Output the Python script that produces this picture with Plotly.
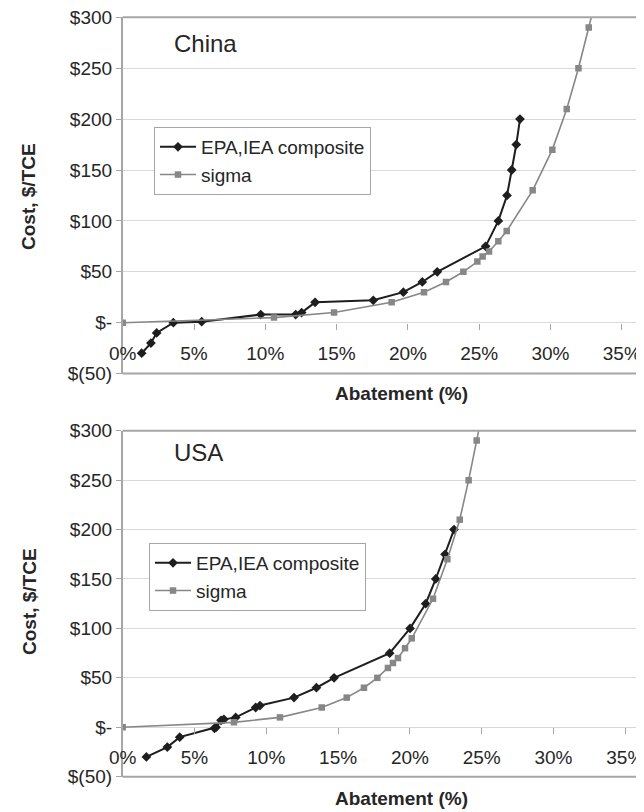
import plotly.graph_objects as go

# ---- data (abatement as fraction, cost in $/TCE) ----
china_epa_x = [0.0133, 0.0198, 0.0238, 0.0355, 0.0554, 0.0968, 0.1213, 0.1255, 0.1349,
               0.1757, 0.1968, 0.2101, 0.2206, 0.2545, 0.2634, 0.2695, 0.2728, 0.2760, 0.2786]
china_epa_y = [-30, -20, -10, 0, 1, 8, 8, 10, 20, 22, 30, 40, 50, 75, 100, 125, 150, 175, 200]

china_sigma_x = [0.0, 0.1061, 0.1482, 0.1886, 0.2113, 0.2267, 0.2389, 0.2487, 0.2524, 0.2569,
                 0.2634, 0.2693, 0.2875, 0.3013, 0.3114, 0.3196, 0.3268, 0.3340]
china_sigma_y = [0, 5, 10, 20, 30, 40, 50, 60, 65, 70, 80, 90, 130, 170, 210, 250, 290, 330]

usa_epa_x = [0.0165, 0.0311, 0.0397, 0.0639, 0.0650, 0.0685, 0.0705, 0.0787, 0.0926, 0.0956,
             0.1193, 0.1349, 0.1472, 0.1859, 0.2001, 0.2110, 0.2180, 0.2245, 0.2307]
usa_epa_y = [-30, -20, -10, -1, 0, 7, 8, 10, 20, 22, 30, 40, 50, 75, 100, 125, 150, 175, 200]

usa_sigma_x = [0.0, 0.0775, 0.1095, 0.1386, 0.1560, 0.1680, 0.1773, 0.1847, 0.1882, 0.1917,
               0.1966, 0.2013, 0.2161, 0.2261, 0.2347, 0.2409, 0.2465, 0.2520]
usa_sigma_y = [0, 5, 10, 20, 30, 40, 50, 60, 65, 70, 80, 90, 130, 170, 210, 250, 290, 330]

y_tick_vals = [-50, 0, 50, 100, 150, 200, 250, 300]
y_tick_text = ["$(50)", "$-", "$50", "$100", "$150", "$200", "$250", "$300"]
series_names = ["EPA,IEA composite", "sigma"]
panel_names = ["China", "USA"]

FONT = "Arial, Liberation Sans, sans-serif"
TXT = "#262626"
EPA_C = "#1e1e1e"
SIG_C = "#878787"
GRID = "#d9d9d9"
BORDER = "#a6a6a6"
FS = 19

# page body has an 8px margin: the figure starts at page (8, 8)
OFF = 8
W, H = 644 - OFF, 812 - OFF


def px(x):
    return (x - OFF) / W


def py(y):
    return 1 - (y - OFF) / H


top_dom = [py(373.6), py(17.3)]
bot_dom = [py(776.7), py(430.7)]
x_left = px(122.7)


def zero_pos(dom):
    return dom[0] + (dom[1] - dom[0]) * 50 / 350


fig = go.Figure()


def add_panel(xs1, ys1, xs2, ys2, xa, ya, leg):
    fig.add_trace(go.Scatter(x=xs1, y=ys1, mode="lines+markers", name=series_names[0],
                             line=dict(color=EPA_C, width=2),
                             marker=dict(symbol="diamond", size=7.5, color=EPA_C),
                             xaxis=xa, yaxis=ya, legend=leg))
    fig.add_trace(go.Scatter(x=xs2, y=ys2, mode="lines+markers", name=series_names[1],
                             line=dict(color=SIG_C, width=1.6),
                             marker=dict(symbol="square", size=6.5, color=SIG_C),
                             xaxis=xa, yaxis=ya, legend=leg))


add_panel(china_epa_x, china_epa_y, china_sigma_x, china_sigma_y, "x", "y", "legend")
add_panel(usa_epa_x, usa_epa_y, usa_sigma_x, usa_sigma_y, "x2", "y2", "legend2")

xcommon = dict(dtick=0.05, tick0=0, tickformat=".0%", showgrid=False, zeroline=False,
               showline=False, ticks="outside", ticklen=6, tickcolor=BORDER,
               tickfont=dict(family=FONT, size=FS, color=TXT), anchor="free",
               ticklabelstandoff=7, automargin=False, ticklabeloverflow="allow")
ycommon = dict(range=[-50, 300], tickvals=y_tick_vals, ticktext=y_tick_text,
               showgrid=True, gridcolor=GRID, gridwidth=1, zeroline=False,
               showline=True, linecolor=BORDER, linewidth=1.5,
               ticks="outside", ticklen=5, tickcolor=BORDER, automargin=False,
               ticklabeloverflow="allow",
               tickfont=dict(family=FONT, size=FS, color=TXT))

legcommon = dict(xanchor="left", yanchor="middle", bordercolor=BORDER, borderwidth=1,
                 bgcolor="white", font=dict(family=FONT, size=FS, color=TXT),
                 itemwidth=36)

fig.update_layout(
    width=W, height=H, margin=dict(l=0, r=0, t=0, b=0, autoexpand=False),
    paper_bgcolor="white", plot_bgcolor="white",
    xaxis=dict(domain=[x_left, 1], range=[0, (644 - 122.7) / 71.3 * 0.05],
               position=zero_pos(top_dom), **xcommon),
    yaxis=dict(domain=top_dom, anchor="x", **ycommon),
    xaxis2=dict(domain=[x_left, 1], range=[0, (644 - 122.7) / 71.8 * 0.05],
                position=zero_pos(bot_dom), **xcommon),
    yaxis2=dict(domain=bot_dom, anchor="x2", **ycommon),
    legend=dict(x=px(154), y=py(161), **legcommon),
    legend2=dict(x=px(149), y=py(577), **legcommon),
    showlegend=True,
)

# plot area top/bottom borders
for dom in (top_dom, bot_dom):
    for yv in dom:
        fig.add_shape(type="line", xref="paper", yref="paper", x0=x_left, x1=1, y0=yv, y1=yv,
                      line=dict(color=BORDER, width=2), layer="above")

# titles
ann = []
for name, yc in [(panel_names[0], 43), (panel_names[1], 453)]:
    ann.append(dict(text=name, x=px(172), y=py(yc), xref="paper", yref="paper",
                    xanchor="left", yanchor="middle", showarrow=False,
                    font=dict(family=FONT, size=24, color=TXT)))
for yc in (197, 602):
    ann.append(dict(text="<b>Cost, $/TCE</b>", x=px(29), y=py(yc), xref="paper", yref="paper",
                    xanchor="center", yanchor="middle", textangle=-90, showarrow=False,
                    font=dict(family=FONT, size=FS, color=TXT)))
for yc in (393, 798):
    ann.append(dict(text="<b>Abatement (%)</b>", x=px(401), y=py(yc), xref="paper", yref="paper",
                    xanchor="center", yanchor="middle", showarrow=False,
                    font=dict(family=FONT, size=FS, color=TXT)))
fig.update_layout(annotations=ann)

fig.write_html("out.html")
